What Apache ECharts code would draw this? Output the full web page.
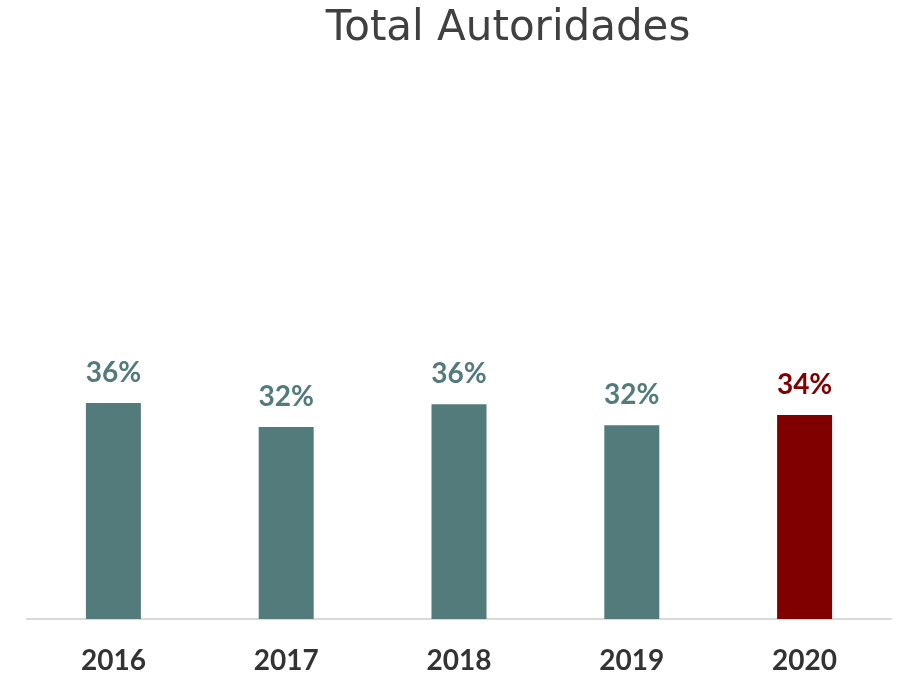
<!DOCTYPE html>
<html><head><meta charset="utf-8">
<script src="https://cdn.jsdelivr.net/npm/echarts@6/dist/echarts.min.js"></script>
<style>html,body{margin:0;padding:0;background:#fff}#c{width:902px;height:675px}</style>
</head><body><div id="c"></div>
<script>
const categories = ['2016','2017','2018','2019','2020'];
const values = [0.360, 0.320, 0.358, 0.323, 0.340];
const labels = ['36%','32%','36%','32%','34%'];
const barColors = ['#537B7B','#537B7B','#537B7B','#537B7B','#800000'];

const chart = echarts.init(document.getElementById('c'));
chart.setOption({
  animation:false,
  title:{text:'Total Autoridades',left:503,top:3,textAlign:'center',
    textStyle:{fontFamily:'DejaVu Sans',fontSize:42,fontWeight:'normal',color:'#404040'}},
  grid:{left:27,right:11,top:19,bottom:56},
  xAxis:{type:'category',data:categories,
    axisLine:{lineStyle:{color:'#d9d9d9',width:2}},axisTick:{show:false},
    axisLabel:{margin:28,fontFamily:'Lato',fontWeight:'bold',fontSize:28,color:'#333333'}},
  yAxis:{type:'value',min:0,max:1,show:false,splitLine:{show:false}},
  series:[{type:'bar',barWidth:55,
    data:values.map((v,i)=>({value:v,itemStyle:{color:barColors[i]},
      label:{show:true,position:'top',distance:16,formatter:labels[i],
        fontFamily:'Lato',fontWeight:'bold',fontSize:28,color:barColors[i]}}))
  }]
});
</script></body></html>
